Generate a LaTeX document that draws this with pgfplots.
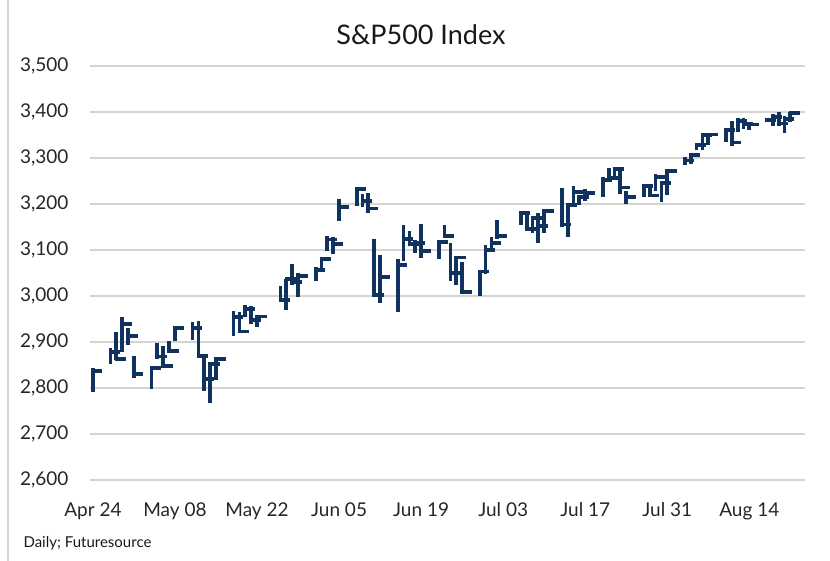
\documentclass[border=0pt]{standalone}
\usepackage{pgfplots}
\pgfplotsset{compat=1.18}
\usepackage{pgfplotstable}
\usepackage{fontspec}
\setmainfont{Lato}
\definecolor{navy}{RGB}{16,50,94}
\definecolor{gridc}{RGB}{212,212,212}
\pgfdeclareplotmark{closetick}{%
  \pgfpathmoveto{\pgfqpoint{-1.8bp}{0pt}}%
  \pgfpathlineto{\pgfqpoint{9.5bp}{0pt}}%
  \pgfusepathqstroke}

\pgfplotstableread{
d H L C
0 2842.71 2791.76 2836.74
3 2887.72 2852.89 2878.48
4 2921.40 2860.71 2863.39
5 2954.86 2879.22 2939.51
6 2930.91 2892.47 2912.43
7 2869.09 2821.61 2830.71
10 2844.24 2797.85 2842.74
11 2898.23 2863.55 2868.44
12 2891.11 2847.65 2848.42
13 2901.92 2876.48 2881.19
14 2932.16 2902.88 2929.80
17 2944.25 2903.44 2930.32
18 2945.82 2869.59 2870.12
19 2874.68 2793.15 2820.00
20 2852.80 2766.64 2852.50
21 2865.01 2816.78 2863.70
24 2968.09 2913.86 2953.91
25 2964.21 2922.35 2922.94
26 2980.29 2953.63 2971.61
27 2978.50 2938.57 2948.51
28 2956.76 2933.59 2955.45
32 3021.72 2987.30 2991.77
33 3036.25 2969.75 3036.13
34 3068.67 3023.40 3029.73
35 3049.17 2998.61 3044.31
38 3062.18 3031.54 3055.73
39 3081.07 3051.64 3080.82
40 3130.94 3098.90 3122.87
41 3128.91 3090.41 3112.35
42 3211.72 3163.84 3193.93
45 3233.13 3196.00 3232.39
46 3222.71 3193.11 3207.18
47 3223.27 3181.49 3190.14
48 3123.53 2999.49 3002.10
49 3088.42 2984.47 3041.31
52 3079.76 2965.66 3066.59
53 3153.45 3076.06 3124.74
54 3141.16 3108.03 3113.49
55 3120.92 3093.51 3115.34
56 3155.53 3083.11 3097.74
59 3120.85 3079.39 3117.86
60 3154.90 3127.12 3131.29
61 3115.01 3032.13 3050.33
62 3086.25 3024.01 3083.76
63 3073.73 3004.63 3009.05
66 3053.89 2999.74 3053.24
67 3111.51 3047.83 3100.29
68 3128.44 3101.17 3115.86
69 3165.81 3124.52 3130.01
73 3182.59 3155.29 3179.72
74 3184.15 3142.93 3145.32
75 3171.80 3136.53 3169.94
76 3179.78 3115.70 3152.05
77 3186.82 3136.22 3185.04
80 3235.32 3149.43 3155.22
81 3200.95 3127.66 3197.52
82 3238.28 3200.76 3226.56
83 3220.39 3198.59 3215.57
84 3233.52 3205.65 3224.73
87 3258.61 3215.16 3251.84
88 3277.29 3247.77 3257.30
89 3279.32 3253.10 3276.02
90 3279.99 3222.66 3235.66
91 3227.26 3200.05 3215.63
94 3241.43 3214.25 3239.41
95 3243.72 3216.17 3218.44
96 3264.74 3227.47 3258.44
97 3250.92 3204.13 3246.22
98 3272.00 3220.24 3271.12
101 3302.73 3284.53 3294.61
102 3306.84 3286.37 3306.51
103 3330.77 3317.37 3327.77
104 3351.03 3318.14 3349.16
105 3352.54 3328.72 3351.28
108 3363.29 3335.44 3360.47
109 3381.01 3326.44 3333.69
110 3387.89 3355.58 3380.35
111 3387.24 3363.35 3373.43
112 3378.41 3361.64 3372.85
115 3387.59 3379.22 3381.99
116 3395.06 3370.15 3389.78
117 3399.54 3369.66 3374.85
118 3390.80 3354.69 3385.51
119 3399.96 3379.31 3397.16
}\ohlc

\begin{document}
\begin{tikzpicture}
\path[use as bounding box] (0,0) rectangle (830bp,561bp);
\draw[gridc, line width=1.2bp] (8bp,0) -- (8bp,561bp);
\begin{axis}[
  at={(90bp,81bp)}, anchor=south west,
  scale only axis, width=715bp, height=414bp,
  xmin=-0.5, xmax=121.5, ymin=2600, ymax=3500,
  ytick={2600,2700,...,3500},
  xtick={0,14,...,112},
  xticklabels={Apr 24,May 08,May 22,Jun 05,Jun 19,Jul 03,Jul 17,Jul 31,Aug 14},
  axis line style={draw=none},
  major tick length=0pt,
  ymajorgrids, grid style={gridc, line width=1.2bp},
  ticklabel style={font=\fontsize{19bp}{22bp}\selectfont, text=black!85},
  /pgf/number format/assume math mode=true,
  yticklabel style={/pgf/number format/1000 sep={,}, /pgf/number format/fixed, anchor=east, xshift=-18bp},
  xticklabel style={anchor=north, yshift=-19bp},
  clip=false,
]
\addplot[draw=none, mark=none, forget plot,
  error bars/.cd, y dir=plus, y explicit,
  error bar style={navy, line width=3.8bp}, error mark=none]
  table[x=d, y=L, y error expr=\thisrow{H}-\thisrow{L}] {\ohlc};
\addplot[only marks, mark=closetick, mark options={navy, line width=3.8bp}]
  table[x=d, y=C] {\ohlc};
\end{axis}
\node[font=\fontsize{27bp}{30bp}\selectfont, text=black!90] at (421bp,526bp) {S\&P500 Index};
\node[font=\fontsize{15bp}{18bp}\selectfont, text=black!90, anchor=west] at (20bp,18bp) {Daily; Futuresource};
\end{tikzpicture}
\end{document}
